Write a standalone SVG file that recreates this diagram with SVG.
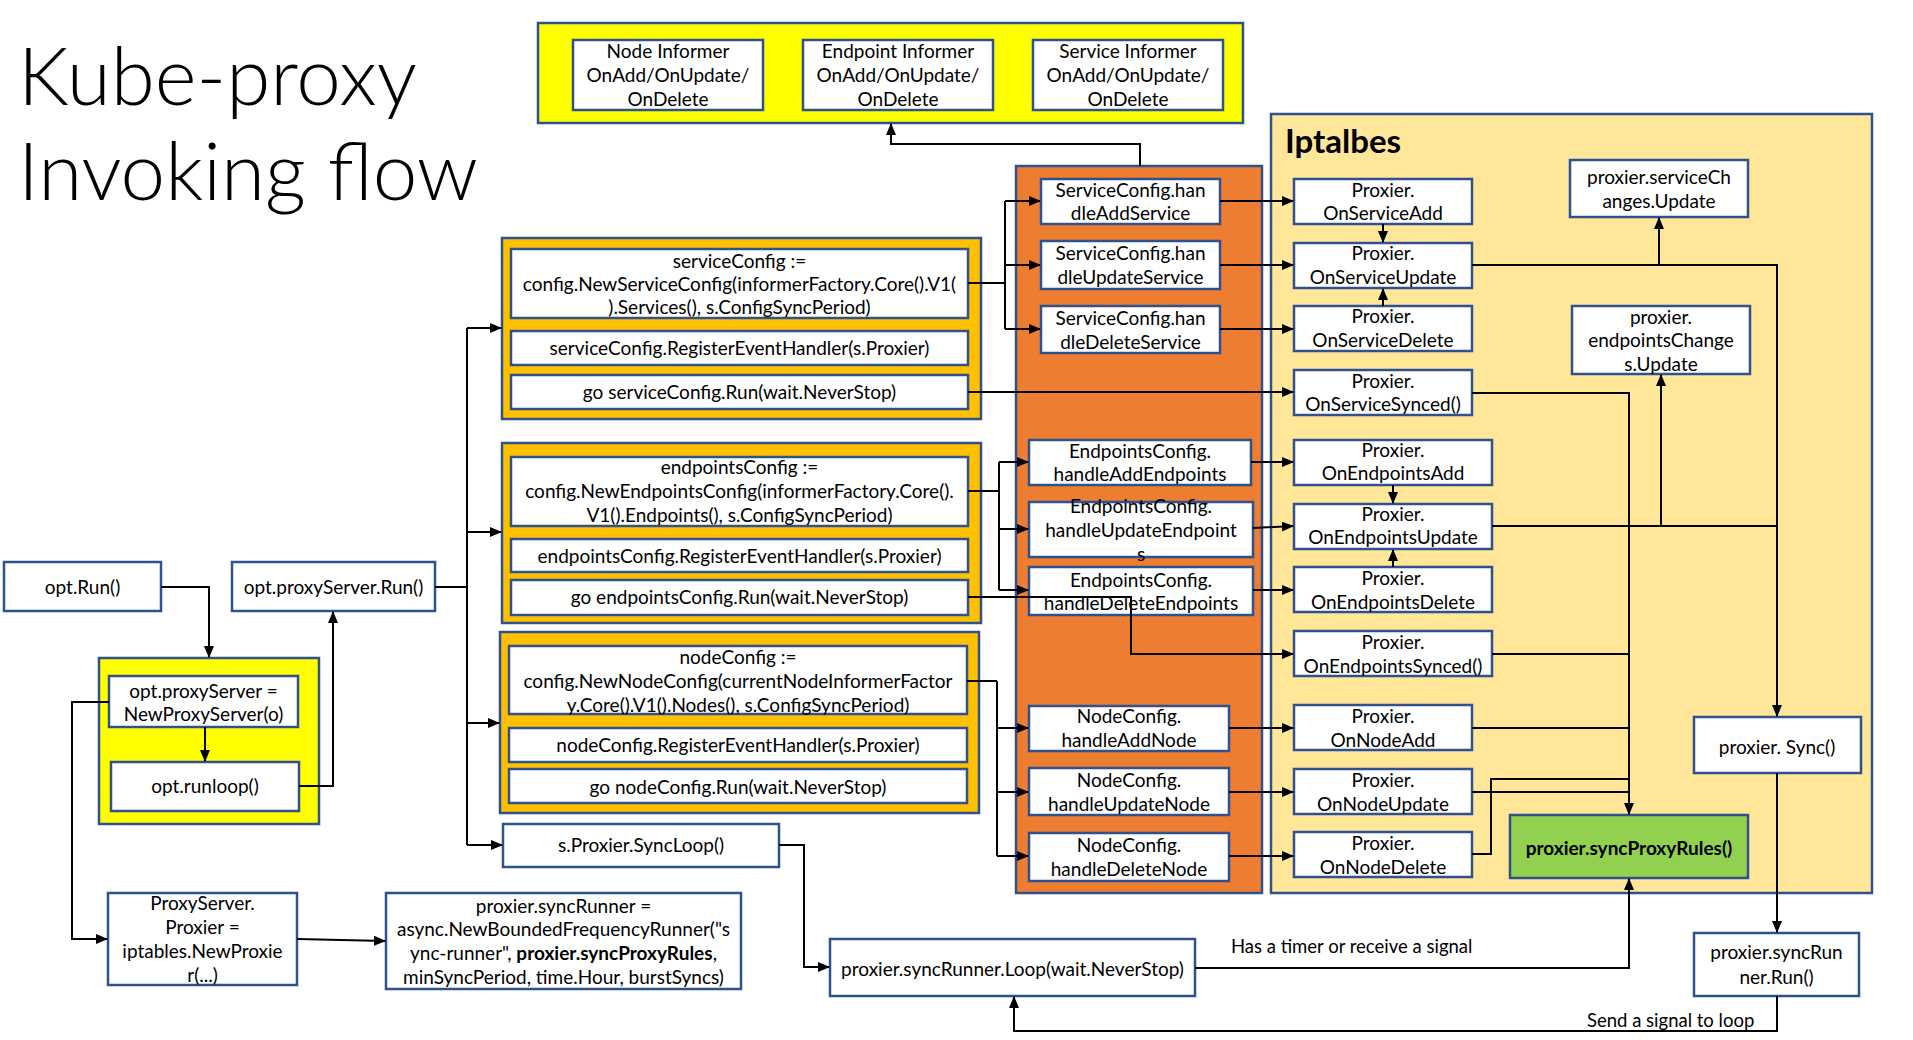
<svg xmlns="http://www.w3.org/2000/svg" width="1913" height="1040" viewBox="0 0 1913 1040">
<defs>
<marker id="ah" markerWidth="12" markerHeight="10" refX="11" refY="5" orient="auto" markerUnits="userSpaceOnUse"><path d="M0,0 L12,5 L0,10 z" fill="#000"/></marker>
<style>
.box{fill:#fff;stroke:#2F528F;stroke-width:2.5}
.grp{stroke:#2F528F;stroke-width:2.5}
.t{font-family:Lato,"Open Sans","Liberation Sans",sans-serif;font-size:19px;fill:#000;text-anchor:middle}
.lbl{font-family:Lato,"Open Sans","Liberation Sans",sans-serif;font-size:18.5px;fill:#000}
.c{fill:none;stroke:#000;stroke-width:2;marker-end:url(#ah)}
.l{fill:none;stroke:#000;stroke-width:2}
</style>
</defs>
<rect width="1913" height="1040" fill="#fff"/>

<g id="title">
<text x="18" y="105" style="font-family:Lato,'Open Sans',sans-serif;font-size:80px;font-weight:300">Kube-proxy</text>
<text x="18" y="200" style="font-family:Lato,'Open Sans',sans-serif;font-size:80px;font-weight:300">Invoking flow</text>
</g>

<g id="informers">
<rect class="grp" x="538" y="23" width="705" height="100" fill="#FFFF00"/>
<g id="node-informer"><rect class="box" x="573" y="40" width="190" height="70"/>
<text class="t" x="668" y="58">Node Informer</text><text class="t" x="668" y="82">OnAdd/OnUpdate/</text><text class="t" x="668" y="106">OnDelete</text></g>
<g id="endpoint-informer"><rect class="box" x="803" y="40" width="190" height="70"/>
<text class="t" x="898" y="58">Endpoint Informer</text><text class="t" x="898" y="82">OnAdd/OnUpdate/</text><text class="t" x="898" y="106">OnDelete</text></g>
<g id="service-informer"><rect class="box" x="1033" y="40" width="190" height="70"/>
<text class="t" x="1128" y="58">Service Informer</text><text class="t" x="1128" y="82">OnAdd/OnUpdate/</text><text class="t" x="1128" y="106">OnDelete</text></g>
</g>

<g id="handlers-panel"><rect class="grp" x="1016" y="166" width="246" height="727" fill="#ED7D31"/></g>
<g id="iptables-panel"><rect class="grp" x="1271" y="114" width="601" height="779" fill="#FFE699"/>
<text x="1285" y="153" style="font-family:Lato,'Open Sans',sans-serif;font-size:33px;font-weight:bold">Iptalbes</text></g>

<g id="opt-run"><rect class="box" x="4" y="562" width="157" height="49"/><text class="t" x="82.5" y="594">opt.Run()</text></g>
<g id="opt-proxyserver-run"><rect class="box" x="232" y="562" width="203" height="49"/><text class="t" x="333.5" y="594">opt.proxyServer.Run()</text></g>
<g id="opt-group"><rect class="grp" x="99" y="658" width="220" height="166" fill="#FFFF00"/></g>
<g id="new-proxy-server"><rect class="box" x="109" y="676" width="189" height="51"/><text class="t" x="203.5" y="698">opt.proxyServer =</text><text class="t" x="203.5" y="721">NewProxyServer(o)</text></g>
<g id="opt-runloop"><rect class="box" x="111" y="762" width="188" height="49"/><text class="t" x="205" y="793">opt.runloop()</text></g>
<g id="proxyserver-proxier"><rect class="box" x="108" y="893" width="189" height="92"/>
<text class="t" x="202.5" y="910">ProxyServer.</text><text class="t" x="202.5" y="934">Proxier =</text><text class="t" x="202.5" y="958">iptables.NewProxie</text><text class="t" x="202.5" y="982">r(...)</text></g>
<g id="sync-runner-new"><rect class="box" x="386" y="893" width="355" height="96"/>
<text class="t" x="563.5" y="913">proxier.syncRunner =</text><text class="t" x="563.5" y="936">async.NewBoundedFrequencyRunner("s</text>
<text class="t" x="563.5" y="960">ync-runner", <tspan font-weight="bold">proxier.syncProxyRules</tspan>,</text><text class="t" x="563.5" y="984">minSyncPeriod, time.Hour, burstSyncs)</text></g>

<g id="service-config">
<rect class="grp" x="502" y="238" width="479" height="181" fill="#FFC000"/>
<rect class="box" x="511" y="249" width="457" height="69"/>
<text class="t" x="739.5" y="268">serviceConfig :=</text><text class="t" x="739.5" y="291">config.NewServiceConfig(informerFactory.Core().V1(</text><text class="t" x="739.5" y="314">).Services(), s.ConfigSyncPeriod)</text>
<rect class="box" x="511" y="331" width="457" height="34"/><text class="t" x="739.5" y="355">serviceConfig.RegisterEventHandler(s.Proxier)</text>
<rect class="box" x="511" y="375" width="457" height="34"/><text class="t" x="739.5" y="399">go serviceConfig.Run(wait.NeverStop)</text>
</g>
<g id="endpoints-config">
<rect class="grp" x="502" y="443" width="479" height="180" fill="#FFC000"/>
<rect class="box" x="511" y="457" width="457" height="69"/>
<text class="t" x="739.5" y="474">endpointsConfig :=</text><text class="t" x="739.5" y="498">config.NewEndpointsConfig(informerFactory.Core().</text><text class="t" x="739.5" y="522">V1().Endpoints(), s.ConfigSyncPeriod)</text>
<rect class="box" x="511" y="539" width="457" height="33"/><text class="t" x="739.5" y="563">endpointsConfig.RegisterEventHandler(s.Proxier)</text>
<rect class="box" x="511" y="580" width="457" height="35"/><text class="t" x="739.5" y="604">go endpointsConfig.Run(wait.NeverStop)</text>
</g>
<g id="node-config">
<rect class="grp" x="500" y="632" width="479" height="181" fill="#FFC000"/>
<rect class="box" x="509" y="646" width="458" height="68"/>
<text class="t" x="738" y="664">nodeConfig :=</text><text class="t" x="738" y="688">config.NewNodeConfig(currentNodeInformerFactor</text><text class="t" x="738" y="712">y.Core().V1().Nodes(), s.ConfigSyncPeriod)</text>
<rect class="box" x="509" y="728" width="458" height="34"/><text class="t" x="738" y="752">nodeConfig.RegisterEventHandler(s.Proxier)</text>
<rect class="box" x="509" y="769" width="458" height="34"/><text class="t" x="738" y="794">go nodeConfig.Run(wait.NeverStop)</text>
</g>
<g id="sync-loop"><rect class="box" x="503" y="824" width="276" height="43"/><text class="t" x="641" y="852">s.Proxier.SyncLoop()</text></g>

<g id="svc-add-h"><rect class="box" x="1041" y="179" width="179" height="45"/><text class="t" x="1130.5" y="197">ServiceConfig.han</text><text class="t" x="1130.5" y="220">dleAddService</text></g>
<g id="svc-upd-h"><rect class="box" x="1041" y="241" width="179" height="48"/><text class="t" x="1130.5" y="260">ServiceConfig.han</text><text class="t" x="1130.5" y="284">dleUpdateService</text></g>
<g id="svc-del-h"><rect class="box" x="1041" y="306" width="179" height="47"/><text class="t" x="1130.5" y="325">ServiceConfig.han</text><text class="t" x="1130.5" y="349">dleDeleteService</text></g>
<g id="ep-add-h"><rect class="box" x="1029" y="440" width="222" height="45"/><text class="t" x="1140" y="458">EndpointsConfig.</text><text class="t" x="1140" y="481">handleAddEndpoints</text></g>
<g id="ep-upd-h"><rect class="box" x="1029" y="502" width="224" height="55"/><text class="t" x="1141" y="513">EndpointsConfig.</text><text class="t" x="1141" y="537">handleUpdateEndpoint</text><text class="t" x="1141" y="561">s</text></g>
<g id="ep-del-h"><rect class="box" x="1029" y="567" width="224" height="48"/><text class="t" x="1141" y="587">EndpointsConfig.</text><text class="t" x="1141" y="610">handleDeleteEndpoints</text></g>
<g id="node-add-h"><rect class="box" x="1029" y="706" width="200" height="45"/><text class="t" x="1129" y="723">NodeConfig.</text><text class="t" x="1129" y="747">handleAddNode</text></g>
<g id="node-upd-h"><rect class="box" x="1029" y="768" width="200" height="47"/><text class="t" x="1129" y="787">NodeConfig.</text><text class="t" x="1129" y="811">handleUpdateNode</text></g>
<g id="node-del-h"><rect class="box" x="1029" y="833" width="200" height="48"/><text class="t" x="1129" y="852">NodeConfig.</text><text class="t" x="1129" y="876">handleDeleteNode</text></g>

<g id="p-svc-add"><rect class="box" x="1294" y="179" width="178" height="45"/><text class="t" x="1383" y="197">Proxier.</text><text class="t" x="1383" y="220">OnServiceAdd</text></g>
<g id="p-svc-upd"><rect class="box" x="1294" y="243" width="178" height="45"/><text class="t" x="1383" y="260">Proxier.</text><text class="t" x="1383" y="284">OnServiceUpdate</text></g>
<g id="p-svc-del"><rect class="box" x="1294" y="306" width="178" height="45"/><text class="t" x="1383" y="323">Proxier.</text><text class="t" x="1383" y="347">OnServiceDelete</text></g>
<g id="p-svc-sync"><rect class="box" x="1294" y="370" width="178" height="45"/><text class="t" x="1383" y="388">Proxier.</text><text class="t" x="1383" y="411">OnServiceSynced()</text></g>
<g id="p-ep-add"><rect class="box" x="1294" y="440" width="198" height="45"/><text class="t" x="1393" y="457">Proxier.</text><text class="t" x="1393" y="480">OnEndpointsAdd</text></g>
<g id="p-ep-upd"><rect class="box" x="1294" y="504" width="198" height="45"/><text class="t" x="1393" y="521">Proxier.</text><text class="t" x="1393" y="544">OnEndpointsUpdate</text></g>
<g id="p-ep-del"><rect class="box" x="1294" y="567" width="198" height="45"/><text class="t" x="1393" y="585">Proxier.</text><text class="t" x="1393" y="609">OnEndpointsDelete</text></g>
<g id="p-ep-sync"><rect class="box" x="1294" y="631" width="198" height="45"/><text class="t" x="1393" y="649">Proxier.</text><text class="t" x="1393" y="673">OnEndpointsSynced()</text></g>
<g id="p-node-add"><rect class="box" x="1294" y="705" width="178" height="45"/><text class="t" x="1383" y="723">Proxier.</text><text class="t" x="1383" y="747">OnNodeAdd</text></g>
<g id="p-node-upd"><rect class="box" x="1294" y="769" width="178" height="45"/><text class="t" x="1383" y="787">Proxier.</text><text class="t" x="1383" y="811">OnNodeUpdate</text></g>
<g id="p-node-del"><rect class="box" x="1294" y="832" width="178" height="45"/><text class="t" x="1383" y="850">Proxier.</text><text class="t" x="1383" y="874">OnNodeDelete</text></g>
<g id="svc-changes"><rect class="box" x="1570" y="160" width="178" height="57"/><text class="t" x="1659" y="184">proxier.serviceCh</text><text class="t" x="1659" y="208">anges.Update</text></g>
<g id="ep-changes"><rect class="box" x="1572" y="306" width="178" height="68"/><text class="t" x="1661" y="324">proxier.</text><text class="t" x="1661" y="347">endpointsChange</text><text class="t" x="1661" y="371">s.Update</text></g>
<g id="sync"><rect class="box" x="1694" y="717" width="167" height="56"/><text class="t" x="1777" y="754">proxier. Sync()</text></g>
<g id="sync-proxy-rules"><rect x="1510" y="815" width="238" height="63" fill="#92D050" stroke="#2F528F" stroke-width="2.5"/><text class="t" x="1629" y="855" font-weight="bold">proxier.syncProxyRules()</text></g>
<g id="sync-runner-run"><rect class="box" x="1694" y="933" width="165" height="63"/><text class="t" x="1776.5" y="959">proxier.syncRun</text><text class="t" x="1776.5" y="984">ner.Run()</text></g>
<g id="sync-runner-loop"><rect class="box" x="830" y="939" width="365" height="57"/><text class="t" x="1012.5" y="976">proxier.syncRunner.Loop(wait.NeverStop)</text></g>

<g id="connectors">
<path class="c" d="M1140,166 V144 H891 V124"/>
<path class="c" d="M161,587 H209 V657"/>
<path class="c" d="M205,727 V761"/>
<path class="c" d="M299,786 H333 V612"/>
<path class="c" d="M109,702 H72 V939 H107"/>
<path class="c" d="M297,939 L385,941"/>
<path class="l" d="M435,587 H467 M467,328 V845"/>
<path class="c" d="M467,328 H501"/>
<path class="c" d="M467,532 H501"/>
<path class="c" d="M467,723 H499"/>
<path class="c" d="M467,845 H502"/>
<path class="l" d="M968,283 H1005 M1005,201 V329"/>
<path class="c" d="M1005,201 H1040"/>
<path class="c" d="M1005,265 H1040"/>
<path class="c" d="M1005,329 H1040"/>
<path class="l" d="M968,491 H999 M999,462 V590"/>
<path class="c" d="M999,462 H1028"/>
<path class="c" d="M999,529 H1028"/>
<path class="c" d="M999,590 H1028"/>
<path class="l" d="M967,681 H997 M997,681 V856"/>
<path class="c" d="M997,728 H1028"/>
<path class="c" d="M997,792 H1028"/>
<path class="c" d="M997,856 H1028"/>
<path class="c" d="M968,392 H1293"/>
<path class="c" d="M968,597 H1131 V654 H1293"/>
<path class="c" d="M1220,201 H1293"/>
<path class="c" d="M1220,265 H1293"/>
<path class="c" d="M1220,329 H1293"/>
<path class="c" d="M1251,462 H1293"/>
<path class="c" d="M1253,528 L1293,526"/>
<path class="c" d="M1253,590 H1293"/>
<path class="c" d="M1229,728 H1293"/>
<path class="c" d="M1229,792 H1293"/>
<path class="c" d="M1229,856 H1293"/>
<path class="c" d="M1383,224 V242"/>
<path class="c" d="M1383,306 V289"/>
<path class="c" d="M1393,485 V503"/>
<path class="c" d="M1393,567 V550"/>
<path class="c" d="M1472,265 H1777 V716"/>
<path class="c" d="M1659,265 V218"/>
<path class="l" d="M1492,526 H1777"/>
<path class="c" d="M1661,526 V375"/>
<path class="c" d="M1472,393 H1629 V814"/>
<path class="l" d="M1492,654 H1629"/>
<path class="l" d="M1472,728 H1629"/>
<path class="l" d="M1472,792 H1629"/>
<path class="l" d="M1472,854 H1491 V779 H1629"/>
<path class="c" d="M1777,773 V932"/>
<path class="c" d="M1777,996 V1031 H1014 V997"/>
<path class="c" d="M1195,968 H1629 V879"/>
<path class="c" d="M779,845 H804 V967 H829"/>
<text class="lbl" x="1231" y="953">Has a timer or receive a signal</text>
<text class="lbl" x="1587" y="1027">Send a signal to loop</text>
</g>
</svg>
